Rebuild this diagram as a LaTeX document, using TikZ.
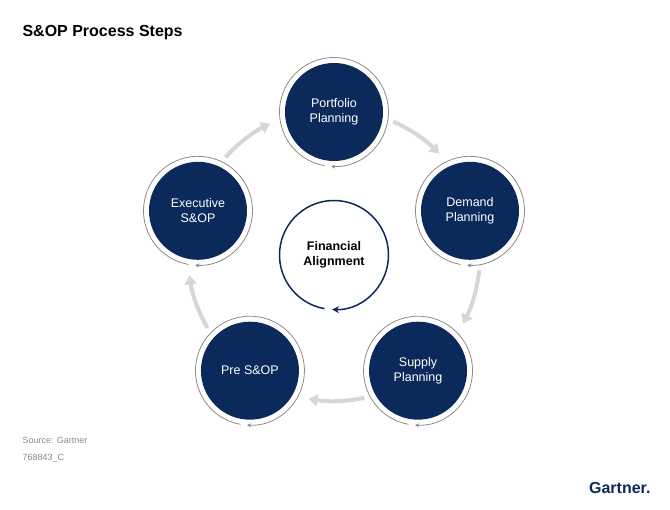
\documentclass[tikz,border=0pt]{standalone}
\usepackage{fontspec}
\setmainfont{Liberation Sans}
\usetikzlibrary{arrows.meta,calc}
\definecolor{navy}{HTML}{0B2A5B}
\definecolor{lgray}{HTML}{D6D6D6}
\definecolor{rgray}{HTML}{8A8A8A}
\begin{document}
\begin{tikzpicture}[x=1pt,y=1pt,
  stepnode/.style={circle,fill=navy,minimum size=98pt,inner sep=0pt,text=white,font=\fontsize{12.5}{15}\selectfont,align=center},
  ring/.style={draw=rgray,line width=0.8pt,-{Stealth[length=4pt,width=4pt]}},
  bigarrow/.style={draw=lgray,line width=4pt,-{Stealth[length=9pt,width=12pt,inset=0pt]}}]
\useasboundingbox (0,0) rectangle (670,510);
\coordinate (C) at (334,255);
\node[anchor=west,font=\bfseries\fontsize{16}{18}\selectfont] (title) at (19,477) {S\&OP Process Steps};
\foreach \n/\a/\t in {port/90/{Portfolio\\Planning},dem/18/{Demand\\Planning},sup/-54/{Supply\\Planning},pre/-126/{Pre S\&OP},exe/162/{Executive\\S\&OP}}{
  \node[stepnode] (\n) at ($(C)+(\a:143)$) {\t};
  \draw[ring] ($(\n)+(-100:54.5)$) arc[start angle=-100,end angle=-453,radius=54.5];
  \draw[bigarrow] ($(C)+(\a-24:146)$) arc[start angle=\a-24,end angle=\a-46,radius=146];
}
\node[font=\bfseries\fontsize{12.5}{15}\selectfont,align=center] (fin) at (C) {Financial\\Alignment};
\draw[draw=navy,line width=1.5pt,-{Stealth[length=7pt,width=7pt]}] ($(fin)+(-100:54.5)$) arc[start angle=-100,end angle=-452,radius=54.5];
\node[anchor=west,text=rgray,font=\fontsize{9}{10}\selectfont] (src) at (19,70) {Source: Gartner};
\node[anchor=west,text=rgray,font=\fontsize{9}{10}\selectfont] (id) at (19,52) {768843\_C};
\node[anchor=east,text=navy,font=\bfseries\fontsize{16}{18}\selectfont] (logo) at (654,22) {Gartner.};
\end{tikzpicture}
\end{document}
